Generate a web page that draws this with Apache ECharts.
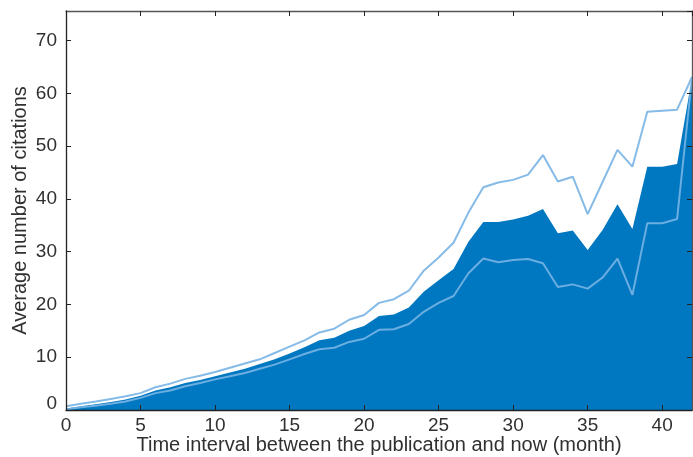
<!DOCTYPE html>
<html>
<head>
<meta charset="utf-8">
<script src="https://cdn.jsdelivr.net/npm/echarts@6/dist/echarts.min.js"></script>
<style>html,body{margin:0;padding:0;background:#fff}#c{width:693px;height:457px}</style>
</head>
<body>
<div id="c"></div>
<script>
const months = [0,1,2,3,4,5,6,7,8,9,10,11,12,13,14,15,16,17,18,19,20,21,22,23,24,25,26,27,28,29,30,31,32,33,34,35,36,37,38,39,40,41,42];
const upperValues = [0.7,1.2,1.6,2.1,2.6,3.2,4.3,5.0,5.9,6.5,7.2,8.0,8.8,9.6,10.8,12.0,13.2,14.7,15.4,17.1,18.0,20.3,21.0,22.6,26.4,28.9,31.7,37.4,42.2,43.1,43.6,44.6,48.3,43.3,44.2,37.1,43.2,49.3,46.1,56.5,56.7,56.9,63.1];
const meanValues = [0.3,0.7,1.1,1.5,2.0,2.7,3.7,4.3,5.1,5.7,6.4,7.1,7.8,8.7,9.6,10.7,11.9,13.2,13.7,15.0,15.9,17.8,18.1,19.4,22.4,24.6,26.7,31.9,35.6,35.6,36.1,36.8,38.1,33.5,34.0,30.3,34.1,39.0,34.3,46.1,46.1,46.6,63.0];
const lowerValues = [0.1,0.5,0.8,1.2,1.6,2.3,3.2,3.7,4.5,5.1,5.8,6.4,7.0,7.8,8.6,9.6,10.6,11.5,11.8,12.9,13.5,15.2,15.3,16.3,18.6,20.3,21.6,25.9,28.7,28.0,28.4,28.6,27.8,23.3,23.8,23.0,25.1,28.7,21.8,35.4,35.4,36.2,63.0];
const xTicks = [0,5,10,15,20,25,30,35,40];
const yTicks = [0,10,20,30,40,50,60,70];

const pair = arr => months.map((m,i)=>[m, arr[i]]);
const font = '"Liberation Sans", Arial, Helvetica, sans-serif';
const textColor = '#303030';

const chart = echarts.init(document.getElementById('c'), null, {renderer:'canvas'});
chart.setOption({
  animation:false,
  grid:{left:66, right:1, top:11, bottom:47, containLabel:false, outerBoundsMode:'none'},
  xAxis:[{
    type:'value', min:0, max:42, interval:5, z:5,
    name:'Time interval between the publication and now (month)',
    nameLocation:'middle', nameGap:25, nameMoveOverlap:false,
    nameTextStyle:{fontFamily:font, fontSize:20, color:textColor},
    axisLine:{show:true, onZero:false, lineStyle:{color:'#222', width:1.3}},
    axisTick:{show:true, inside:true, length:5, lineStyle:{color:'#222'}},
    axisLabel:{show:true, margin:6, fontFamily:font, fontSize:19, color:textColor, showMaxLabel:false,
      formatter:v => xTicks.includes(v) ? String(v) : ''},
    splitLine:{show:false}
  },{
    type:'value', position:'top', min:0, max:42, interval:5, z:5,
    axisLine:{show:true, onZero:false, lineStyle:{color:'#555', width:1.3}},
    axisTick:{show:true, inside:true, length:5, lineStyle:{color:'#222'}},
    axisLabel:{show:false}, splitLine:{show:false}
  }],
  yAxis:[{
    type:'value', min:0, max:75.6, interval:10, z:5,
    name:'Average number of citations',
    nameLocation:'middle', nameGap:36, nameMoveOverlap:false,
    nameTextStyle:{fontFamily:font, fontSize:20, color:textColor},
    axisLine:{show:true, onZero:false, lineStyle:{color:'#222', width:1.3}},
    axisTick:{show:true, inside:true, length:5, lineStyle:{color:'#222'}},
    axisLabel:{show:true, margin:9, fontFamily:font, fontSize:19, color:textColor, showMaxLabel:false,
      formatter:v => yTicks.includes(v) ? (v===0 ? '{z|0}' : String(v)) : '',
      rich:{z:{fontFamily:font, fontSize:19, color:textColor, padding:[0,0,12,0]}}},
    splitLine:{show:false}
  },{
    type:'value', position:'right', min:0, max:75.6, interval:10, z:5,
    axisLine:{show:true, onZero:false, lineStyle:{color:'#555', width:1.3}},
    axisTick:{show:true, inside:true, length:5, lineStyle:{color:'#222'}},
    axisLabel:{show:false}, splitLine:{show:false}
  }],
  series:[
    {type:'line', data:pair(meanValues), symbol:'none', z:2,
      lineStyle:{width:0}, areaStyle:{color:'#0077c1', opacity:1, origin:'start'}},
    {type:'line', data:pair(lowerValues), symbol:'none', z:3,
      lineStyle:{color:'#86bce8', width:2, opacity:0.8}},
    {type:'line', data:pair(upperValues), symbol:'none', z:3,
      lineStyle:{color:'#86bbe7', width:2}}
  ]
});
</script>
</body>
</html>
